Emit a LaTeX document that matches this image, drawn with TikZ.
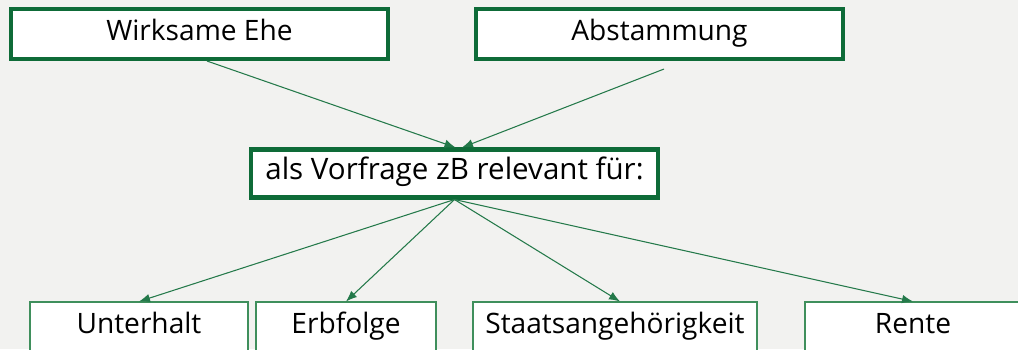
\documentclass[tikz,border=0pt]{standalone}
\usepackage{fontspec}
\setmainfont{Open Sans}
\usetikzlibrary{arrows.meta}
\definecolor{dgruen}{HTML}{0E6B38}
\definecolor{hgruen}{HTML}{3F8F5C}
\definecolor{lgruen}{HTML}{24794A}
\definecolor{grund}{HTML}{F2F2F0}

\begin{document}
\begin{tikzpicture}[
  oben/.style={draw=dgruen,line width=2.3pt,fill=white,minimum height=1cm,inner sep=0pt,text height=0.71em,text depth=0pt,font=\fontsize{16}{18}\selectfont},
  unten/.style={draw=hgruen,line width=0.6pt,fill=white,minimum height=1cm,inner sep=0pt,text height=0.71em,text depth=0pt,font=\fontsize{16}{18}\selectfont},
  pfeil/.style={-{Latex[length=0.22cm,width=0.17cm]},lgruen,line width=0.6pt}]
  \fill[grund] (0,0) rectangle (20.36,-6.98); %Hintergrund
  \useasboundingbox (0,0) rectangle (20.36,-6.98);
  \clip (0,0) rectangle (20.36,-6.98);
  % obere Reihe
  \node[oben,minimum width=7.54cm] (ehe) at (3.99,-0.68) {Wirksame Ehe};
  \node[oben,minimum width=7.34cm] (abst) at (13.19,-0.68) {Abstammung};
  % Mitte
  \node[oben,minimum width=8.14cm,minimum height=0.96cm,font=\fontsize{16.8}{19}\selectfont] (vorfrage) at (9.09,-3.47) {als Vorfrage zB relevant für:};
  % untere Reihe
  \node[unten,minimum width=4.36cm] (unterhalt) at (2.78,-6.54) {Unterhalt};
  \node[unten,minimum width=3.6cm] (erbfolge) at (6.92,-6.54) {Erbfolge};
  \node[unten,minimum width=5.68cm] (staat) at (12.3,-6.54) {Staatsangehörigkeit};
  \node[unten,minimum width=4.32cm] (rente) at (18.26,-6.54) {Rente};
  % Pfeile
  \draw[pfeil] ([xshift=0.15cm]ehe.south) -- ([xshift=0.02cm]vorfrage.north);
  \draw[pfeil] ([xshift=0.09cm,yshift=-0.16cm]abst.south) -- ([xshift=0.15cm]vorfrage.north);
  \draw[pfeil] (vorfrage.south) -- (unterhalt.north);
  \draw[pfeil] (vorfrage.south) -- (erbfolge.north);
  \draw[pfeil] (vorfrage.south) -- ([xshift=0.1cm]staat.north);
  \draw[pfeil] (vorfrage.south) -- (rente.north);
\end{tikzpicture}
\end{document}
